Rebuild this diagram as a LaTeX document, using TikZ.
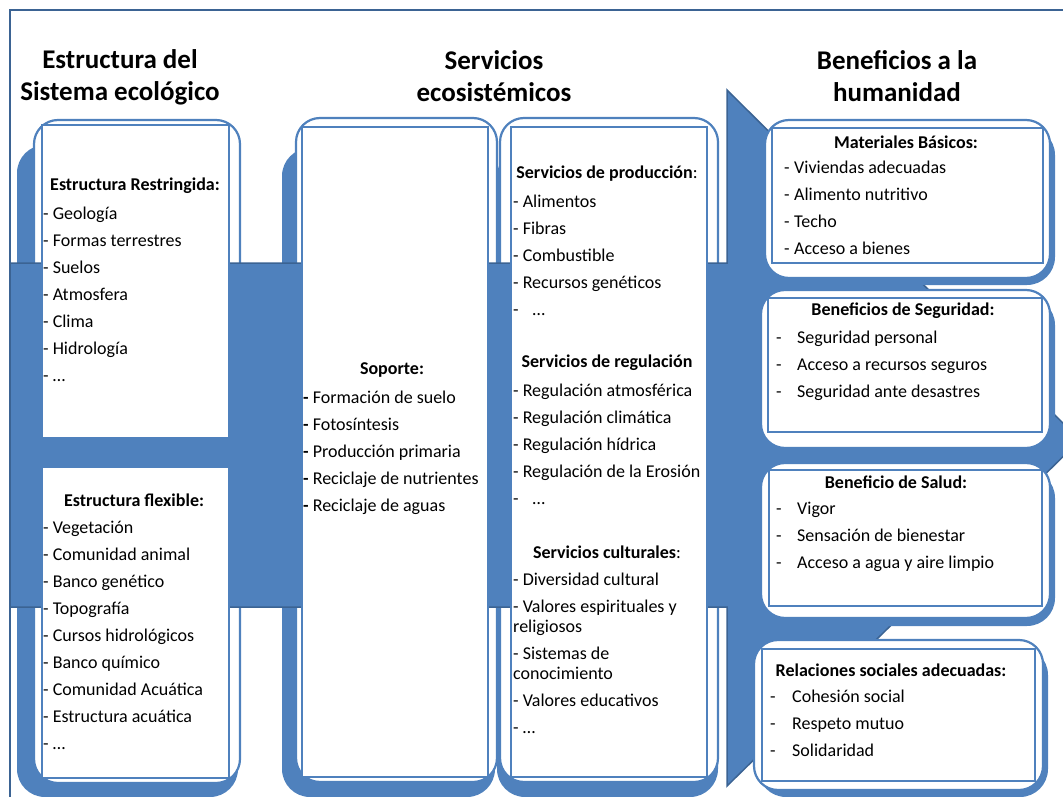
\documentclass[tikz,border=0pt]{standalone}
\usepackage{fontspec}
\setmainfont{Carlito}
\definecolor{bleu}{HTML}{4F81BD}
\definecolor{bleufonce}{HTML}{3B6393}
\tikzset{
	ombre/.style={fill=bleu,rounded corners=28pt},
	facegroupe/.style={draw=bleu,line width=2.2pt,fill=white,rounded corners=24pt},
	boite/.style={draw=bleu,line width=2.5pt,fill=white},
	titre/.style={font=\fontsize{27}{32}\selectfont\bfseries,align=center},
	entete/.style={font=\fontsize{18}{27}\selectfont\bfseries,inner sep=0pt},
	liste/.style={font=\fontsize{18}{27}\selectfont,align=left,inner sep=0pt,anchor=north west},
}
\begin{document}
\begin{tikzpicture}[x=1pt,y=-1pt]
	\useasboundingbox (0,0) rectangle (1063,797);
%	Tracé des ombres et des groupes de gauche :
	\fill[ombre] (17,145) rectangle (238,797);
	\fill[ombre] (282,148) rectangle (495,797);
	\fill[ombre] (497,148) rectangle (718,797);
	\draw[facegroupe] (34,120) rectangle (240,783);
	\draw[facegroupe] (296,118) rectangle (497,782);
	\draw[facegroupe] (500,118) rectangle (718,782);
%	Tracé de la grande flèche :
	\draw[fill=bleu,draw=bleufonce,line width=1.5pt] (10,263) -- (727,263) -- (727,90) -- (1080,440)
		-- (727,786) -- (727,607) -- (10,607) -- cycle;
%	Tracé des groupes de droite :
	\fill[ombre] (769,127) rectangle (1055,285);
	\fill[ombre] (765,297) rectangle (1055,455);
	\fill[ombre] (765,470) rectangle (1055,626);
	\fill[ombre] (758,647) rectangle (1048,797);
	\draw[facegroupe] (765,120) rectangle (1050,278);
	\draw[facegroupe] (761,290) rectangle (1050,448);
	\draw[facegroupe] (761,463) rectangle (1050,618);
	\draw[facegroupe] (754,640) rectangle (1043,790);
%	Tracé des boîtes blanches :
	\draw[boite] (42,125) rectangle (229,438);
	\draw[boite] (42,467) rectangle (229,778);
	\draw[boite] (302,127) rectangle (488,777);
	\draw[boite] (511,127) rectangle (707,777);
	\draw[boite] (772,128) rectangle (1043,263);
	\draw[boite] (768,298) rectangle (1042,432);
	\draw[boite] (769,470) rectangle (1042,606);
	\draw[boite] (762,649) rectangle (1035,781);
%	Les titres :
	\node[titre] (titreestructura) at (120,77) {Estructura del\\Sistema ecológico};
	\node[titre] (titreservicios) at (494,76) {Servicios\\ecosistémicos};
	\node[titre] (titrebeneficios) at (897,76) {Beneficios a la\\humanidad};
%	Colonne de gauche :
	\node[entete] (restrtitre) at (135,186) {Estructura Restringida:};
	\node[liste] (restrliste) at (43,207) {- Geología\\- Formas terrestres\\- Suelos\\- Atmosfera\\- Clima\\- Hidrología\\- …};
	\node[entete] (flextitre) at (134,500) {Estructura flexible:};
	\node[liste] (flexliste) at (43,521) {- Vegetación\\- Comunidad animal\\- Banco genético\\- Topografía\\- Cursos hidrológicos\\- Banco químico\\- Comunidad Acuática\\- Estructura acuática\\- …};
%	Colonnes du milieu :
	\node[entete] (soportetitre) at (392,370) {Soporte:};
	\node[liste] (soporteliste) at (303,391) {\textbf{-} Formación de suelo\\\textbf{-} Fotosíntesis\\\textbf{-} Producción primaria\\\textbf{-} Reciclaje de nutrientes\\\textbf{-} Reciclaje de aguas};
	\node[entete] (prodtitre) at (607,174) {Servicios de producción\mdseries:};
	\node[liste] (prodliste) at (513,195) {- Alimentos\\- Fibras\\- Combustible\\- Recursos genéticos\\-\hspace{14pt}…};
	\node[entete] (regultitre) at (607,363) {Servicios de regulación};
	\node[liste] (regulliste) at (513,384) {- Regulación atmosférica\\- Regulación climática\\- Regulación hídrica\\- Regulación de la Erosión\\-\hspace{14pt}…};
	\node[entete] (culttitre) at (607,552) {Servicios culturales\mdseries:};
	\node[liste] (cultliste) at (513,573) {- Diversidad cultural\\- Valores espirituales y\\[-7pt]religiosos\\- Sistemas de\\[-7pt]conocimiento\\- Valores educativos\\- …};
%	Colonne de droite :
	\node[entete] (mattitre) at (906,142) {Materiales Básicos:};
	\node[liste] (matliste) at (784,161) {\makebox[10pt][l]{-}Viviendas adecuadas\\\makebox[10pt][l]{-}Alimento nutritivo\\\makebox[10pt][l]{-}Techo\\\makebox[10pt][l]{-}Acceso a bienes};
	\node[entete] (segtitre) at (903,311) {Beneficios de Seguridad:};
	\node[liste] (segliste) at (776,331) {\makebox[21pt][l]{-}Seguridad personal\\\makebox[21pt][l]{-}Acceso a recursos seguros\\\makebox[21pt][l]{-}Seguridad ante desastres};
	\node[entete] (saludtitre) at (896,482) {Beneficio de Salud:};
	\node[liste] (saludliste) at (776,502) {\makebox[21pt][l]{-}Vigor\\\makebox[21pt][l]{-}Sensación de bienestar\\\makebox[21pt][l]{-}Acceso a agua y aire limpio};
	\node[entete] (reltitre) at (891,670) {Relaciones sociales adecuadas:};
	\node[liste] (relliste) at (770,690) {\makebox[22pt][l]{-}Cohesión social\\\makebox[22pt][l]{-}Respeto mutuo\\\makebox[22pt][l]{-}Solidaridad};
%	Tracé du cadre :
	\draw[bleufonce,line width=2pt] (10,10) rectangle (1080,815);
\end{tikzpicture}
\end{document}
